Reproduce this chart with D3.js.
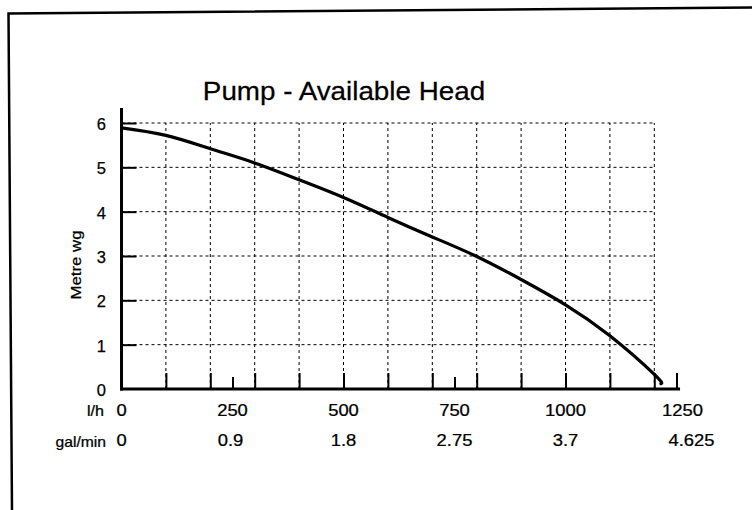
<!DOCTYPE html>
<html>
<head>
<meta charset="utf-8">
<script src="https://cdn.jsdelivr.net/npm/d3@7"></script>
<style>
  html, body { margin: 0; padding: 0; background: #fff; }
  svg { display: block; }
  text { font-family: "Liberation Sans", Arial, Helvetica, sans-serif; fill: #000; stroke: #000; stroke-width: 0.25; }
</style>
</head>
<body>
<svg id="chart" width="752" height="510"></svg>
<script>
// ---- data ----
const title = "Pump - Available Head";
const yLabel = "Metre wg";
const flowLh = [0, 100, 200, 300, 400, 500, 600, 700, 800, 900, 1000, 1100, 1200, 1215];
const headM  = [5.89, 5.72, 5.42, 5.1, 4.72, 4.32, 3.87, 3.43, 2.99, 2.47, 1.9, 1.2, 0.33, 0.12];
const yTicks = [0, 1, 2, 3, 4, 5, 6];
const gridX = [100, 200, 300, 400, 500, 600, 700, 800, 900, 1000, 1100, 1200];
const minorX = [250, 750];
const majorX = [100, 200, 300, 400, 500, 600, 700, 800, 900, 1000, 1100, 1200, 1250];
const lhTicks = [0, 250, 500, 750, 1000, 1250];
const lhLabels = ["0", "250", "500", "750", "1000", "1250"];
const galLabels = ["0", "0.9", "1.8", "2.75", "3.7", "4.625"];

// ---- layout ----
const svg = d3.select("#chart");
const x = d3.scaleLinear().domain([0, 1250]).range([121.5, 676.5]);
const y = d3.scaleLinear().domain([0, 6]).range([389, 123]);

// text helper with horizontal stretch (scanned original is wider)
function label(sel, tx, ty, str, size, anchor, sx, rot) {
  return sel.append("text")
    .attr("transform", `translate(${tx},${ty})` + (rot ? ` rotate(${rot})` : "") + ` scale(${sx},1)`)
    .attr("text-anchor", anchor).attr("font-size", size).text(str);
}

// frame (scanned border, slightly skewed)
svg.append("path")
  .attr("d", "M12,512 L8.5,13.5 L752,7.5")
  .attr("fill", "none").attr("stroke", "#000").attr("stroke-width", 2.5);

// grid
const grid = svg.append("g").attr("stroke", "#000").attr("stroke-width", 1)
  .attr("stroke-dasharray", "3,3");
grid.selectAll("line.h").data(yTicks.slice(1)).join("line")
  .attr("x1", x(0)).attr("x2", x(1200))
  .attr("y1", d => y(d)).attr("y2", d => y(d));
grid.selectAll("line.v").data(gridX).join("line")
  .attr("x1", d => x(d)).attr("x2", d => x(d))
  .attr("y1", y(0)).attr("y2", y(6));

// y axis ticks (inside) via d3.axisRight
const yAxis = svg.append("g").attr("transform", `translate(${x(0)},0)`)
  .call(d3.axisRight(y).tickValues(yTicks.slice(1)).tickSize(15).tickFormat(""));
yAxis.select(".domain").remove();
yAxis.selectAll("line").attr("stroke", "#000").attr("stroke-width", 2);

// y tick labels
const gy = svg.append("g");
yTicks.forEach(d => label(gy, 106, y(d) + 7, String(d), 16.5, "end", 1.0));

// x ticks (upward)
const xMajor = svg.append("g").attr("transform", `translate(0,${y(0)})`)
  .call(d3.axisTop(x).tickValues(majorX).tickSize(16).tickFormat(""));
xMajor.select(".domain").remove();
xMajor.selectAll("line").attr("stroke", "#000").attr("stroke-width", 2);
const xMinor = svg.append("g").attr("transform", `translate(0,${y(0)})`)
  .call(d3.axisTop(x).tickValues(minorX).tickSize(12).tickFormat(""));
xMinor.select(".domain").remove();
xMinor.selectAll("line").attr("stroke", "#000").attr("stroke-width", 2);

// axis lines
svg.append("line").attr("x1", x(0)).attr("x2", x(0))
  .attr("y1", y(0) + 1.5).attr("y2", y(6.34))
  .attr("stroke", "#000").attr("stroke-width", 3);
svg.append("line").attr("x1", x(0) - 1.5).attr("x2", x(1258))
  .attr("y1", y(0)).attr("y2", y(0))
  .attr("stroke", "#000").attr("stroke-width", 3);

// curve
const pts = flowLh.map((f, i) => [f, headM[i]]);
svg.append("path").datum(pts)
  .attr("d", d3.line().x(d => x(d[0])).y(d => y(d[1])).curve(d3.curveNatural))
  .attr("fill", "none").attr("stroke", "#000").attr("stroke-width", 3.2)
  .attr("stroke-linecap", "round");

// x label rows
const lhOffset = [0, 0, 0, 0, 0, 6];
const galOffset = [0, -2, 0, 0, 0, 15];
const gx = svg.append("g");
label(gx, 104, 416, "l/h", 14, "end", 1.15);
lhTicks.forEach((d, i) => label(gx, x(d) + lhOffset[i], 416, lhLabels[i], 16, "middle", 1.15));
label(gx, 106, 447, "gal/min", 14, "end", 1.12);
lhTicks.forEach((d, i) => label(gx, x(d) + galOffset[i], 446, galLabels[i], 16, "middle", 1.15));

// title
label(svg, 344, 100, title, 26, "middle", 1.07).attr("stroke-width", 0.1);

// y label
label(svg, 81, 265, yLabel, 14, "middle", 1.2, -90);
</script>
</body>
</html>
